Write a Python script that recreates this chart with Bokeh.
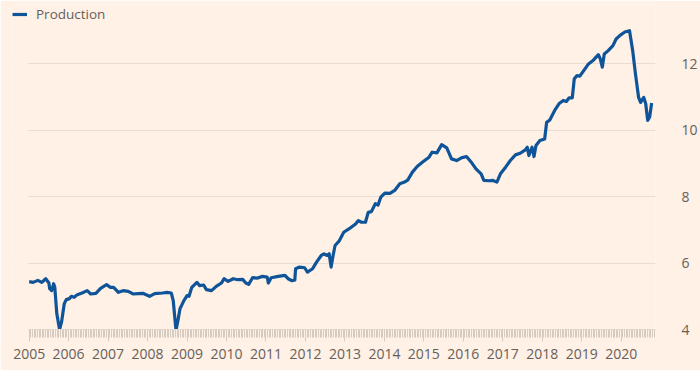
import numpy as np
from bokeh.plotting import figure
from bokeh.models import FixedTicker, Legend, LegendItem, Range1d, BoxAnnotation
from bokeh.embed import file_html
from bokeh.resources import INLINE

# ---- data (decimal year, million barrels/day) ----
dates = [2005.00, 2005.10, 2005.22, 2005.32, 2005.42, 2005.50, 2005.52, 2005.57, 2005.62, 2005.65,
         2005.70, 2005.77, 2005.82, 2005.89, 2005.94, 2006.02, 2006.07, 2006.14, 2006.22, 2006.34,
         2006.47, 2006.56, 2006.69, 2006.81, 2006.96, 2007.06, 2007.14, 2007.26, 2007.38, 2007.51,
         2007.63, 2007.76, 2007.88, 2008.05, 2008.18, 2008.38, 2008.50, 2008.60, 2008.65, 2008.72,
         2008.77, 2008.82, 2008.92, 2009.00, 2009.05, 2009.12, 2009.25, 2009.32, 2009.42, 2009.49,
         2009.62, 2009.74, 2009.87, 2009.94, 2010.04, 2010.17, 2010.29, 2010.41, 2010.49, 2010.56,
         2010.66, 2010.79, 2010.91, 2011.03, 2011.06, 2011.13, 2011.31, 2011.48, 2011.56, 2011.66,
         2011.73, 2011.75, 2011.85, 2011.98, 2012.05, 2012.18, 2012.28, 2012.40, 2012.47, 2012.55,
         2012.60, 2012.65, 2012.70, 2012.75, 2012.85, 2012.97, 2013.10, 2013.27, 2013.34, 2013.42,
         2013.52, 2013.59, 2013.67, 2013.77, 2013.84, 2013.91, 2014.01, 2014.14, 2014.26, 2014.39,
         2014.51, 2014.59, 2014.71, 2014.83, 2014.96, 2015.13, 2015.21, 2015.33, 2015.45, 2015.58,
         2015.70, 2015.83, 2015.95, 2016.08, 2016.20, 2016.32, 2016.45, 2016.52, 2016.65, 2016.75,
         2016.85, 2016.94, 2017.07, 2017.19, 2017.32, 2017.44, 2017.57, 2017.62, 2017.66, 2017.74,
         2017.79, 2017.84, 2017.94, 2018.06, 2018.11, 2018.19, 2018.31, 2018.43, 2018.53, 2018.61,
         2018.68, 2018.76, 2018.81, 2018.88, 2018.95, 2019.05, 2019.17, 2019.30, 2019.42, 2019.47,
         2019.52, 2019.57, 2019.67, 2019.79, 2019.87, 2019.97, 2020.09, 2020.21, 2020.29, 2020.36,
         2020.44, 2020.49, 2020.57, 2020.62, 2020.67, 2020.72, 2020.77]

production = [5.44, 5.42, 5.48, 5.42, 5.53, 5.40, 5.23, 5.17, 5.38, 5.27,
              4.48, 4.00, 4.22, 4.78, 4.90, 4.93, 5.00, 4.97, 5.05, 5.10,
              5.17, 5.07, 5.09, 5.24, 5.35, 5.27, 5.27, 5.12, 5.17, 5.15,
              5.07, 5.08, 5.09, 5.00, 5.08, 5.10, 5.12, 5.10, 4.87, 3.98,
              4.27, 4.62, 4.87, 5.02, 5.00, 5.27, 5.42, 5.32, 5.34, 5.20,
              5.17, 5.30, 5.40, 5.53, 5.45, 5.53, 5.50, 5.51, 5.40, 5.36,
              5.56, 5.55, 5.60, 5.58, 5.40, 5.56, 5.60, 5.63, 5.53, 5.47,
              5.49, 5.83, 5.88, 5.86, 5.73, 5.83, 6.03, 6.23, 6.28, 6.23,
              6.28, 5.88, 6.23, 6.53, 6.66, 6.93, 7.03, 7.18, 7.28, 7.23,
              7.23, 7.53, 7.55, 7.79, 7.75, 7.99, 8.11, 8.10, 8.19, 8.39,
              8.44, 8.50, 8.74, 8.91, 9.04, 9.19, 9.34, 9.32, 9.57, 9.47,
              9.14, 9.09, 9.17, 9.21, 9.04, 8.84, 8.69, 8.49, 8.48, 8.49,
              8.44, 8.69, 8.89, 9.09, 9.26, 9.31, 9.41, 9.49, 9.24, 9.49,
              9.21, 9.54, 9.69, 9.74, 10.24, 10.31, 10.59, 10.81, 10.90, 10.87,
              10.98, 10.98, 11.55, 11.65, 11.63, 11.80, 12.00, 12.12, 12.28, 12.15,
              11.90, 12.30, 12.40, 12.55, 12.75, 12.86, 12.96, 13.00, 12.40, 11.70,
              10.99, 10.84, 10.99, 10.80, 10.30, 10.40, 10.82]

year_ticks = list(range(2005, 2021))
y_ticks = [4, 6, 8, 10, 12]
series_name = "Production"

BG = "#fff1e5"
LINE = "#0f5499"
TEXT = "#66605c"
GRID = "#e9ddd2"
TICK = "#d6cbc1"

X_START = 2004.975   # left end of axis / gridlines
X_END = 2020.868

p = figure(width=700, height=370, output_backend="svg", toolbar_location=None,
           x_range=Range1d(2004.578, X_END), y_range=Range1d(4, 13.79),
           y_axis_location="right",
           min_border_left=12, min_border_right=32, min_border_top=4, min_border_bottom=41)
p.background_fill_color = BG
p.border_fill_color = BG
p.outline_line_color = None

# mask so that gridlines start where the axis starts (legend sits further left)
p.add_layout(BoxAnnotation(right=X_START, top=12.6, fill_color=BG, fill_alpha=1,
                           line_color=None, level="underlay"))

r = p.line(dates, production, line_color=LINE, line_width=3.2, line_join="round")

# x axis
minor = list(np.arange(2005, X_END, 1 / 24))
xa = p.xaxis[0]
xa.bounds = (X_START, X_END)
xa.ticker = FixedTicker(ticks=year_ticks, minor_ticks=minor)
xa.axis_line_color = GRID
xa.major_tick_line_color = TICK
xa.minor_tick_line_color = TICK
xa.major_tick_out = 12
xa.major_tick_in = 0
xa.minor_tick_out = 8
xa.minor_tick_in = 0
xa.major_label_standoff = 7
xa.major_label_text_font = "Open Sans"
xa.major_label_text_font_size = "14px"
xa.major_label_text_color = TEXT

# y axis (right)
ya = p.yaxis[0]
ya.ticker = FixedTicker(ticks=y_ticks)
ya.axis_line_color = None
ya.major_tick_line_color = None
ya.minor_tick_line_color = None
ya.major_label_standoff = 20
ya.major_label_text_align = "right"
ya.major_label_text_font = "Open Sans"
ya.major_label_text_font_size = "14px"
ya.major_label_text_color = TEXT

p.xgrid.grid_line_color = None
p.ygrid.ticker = FixedTicker(ticks=y_ticks)
p.ygrid.grid_line_color = GRID
p.ygrid.grid_line_width = 1

legend = Legend(items=[LegendItem(label=series_name, renderers=[r])],
                location="top_left", orientation="horizontal",
                background_fill_alpha=0, border_line_color=None,
                padding=0, margin=0, glyph_width=15, glyph_height=20,
                label_standoff=9, label_height=20, label_text_font="Open Sans",
                label_text_font_size="13.5px", label_text_color=TEXT)
p.add_layout(legend, "center")

open("out.html", "w").write(file_html(p, INLINE))
